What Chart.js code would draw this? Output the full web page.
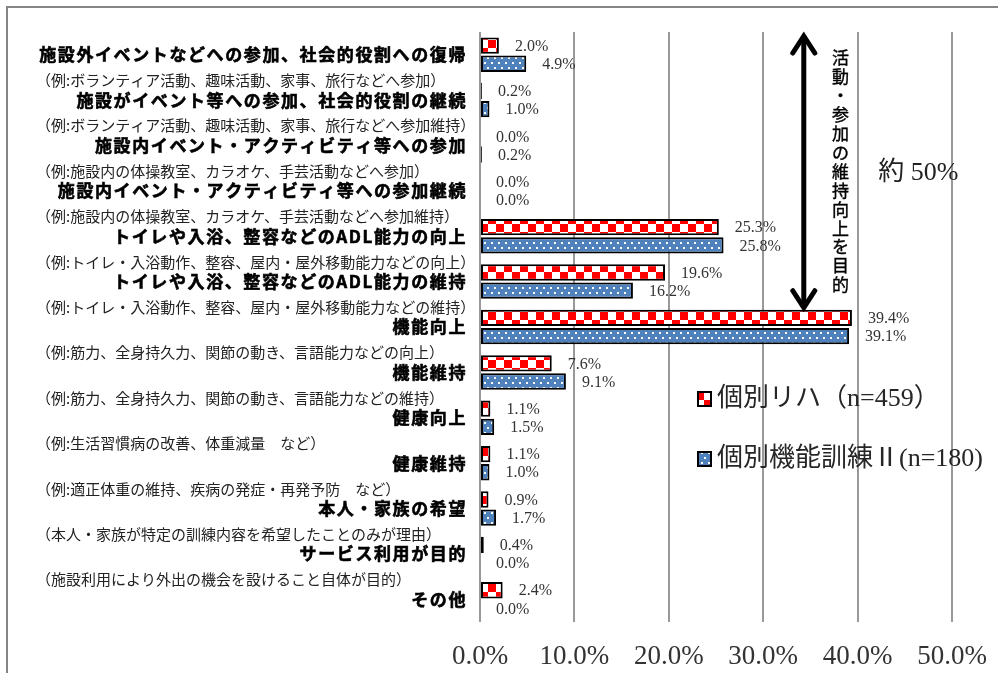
<!DOCTYPE html>
<html lang="ja">
<head>
<meta charset="utf-8">
<script src="https://cdn.jsdelivr.net/npm/chart.js@4.4.1/dist/chart.umd.min.js"></script>
<style>
  html, body { margin: 0; padding: 0; background: #fff; overflow: hidden; }
  #frame { position: absolute; left: 6px; top: 6px; width: 1100px; height: 800px; border: 2px solid #858585; }
  #chart { position: absolute; left: 0; top: 0; }
</style>
</head>
<body>
<div id="frame"></div>
<canvas id="chart" width="998" height="673"></canvas>
<script>
const titles = [
  '施設外イベントなどへの参加、社会的役割への復帰',
  '施設がイベント等への参加、社会的役割の継続',
  '施設内イベント・アクティビティ等への参加',
  '施設内イベント・アクティビティ等への参加継続',
  'トイレや入浴、整容などのADL能力の向上',
  'トイレや入浴、整容などのADL能力の維持',
  '機能向上',
  '機能維持',
  '健康向上',
  '健康維持',
  '本人・家族の希望',
  'サービス利用が目的',
  'その他'
]
const examples = [
  '（例:ボランティア活動、趣味活動、家事、旅行などへ参加）',
  '（例:ボランティア活動、趣味活動、家事、旅行などへ参加維持）',
  '（例:施設内の体操教室、カラオケ、手芸活動などへ参加）',
  '（例:施設内の体操教室、カラオケ、手芸活動などへ参加維持）',
  '（例:トイレ・入浴動作、整容、屋内・屋外移動能力などの向上）',
  '（例:トイレ・入浴動作、整容、屋内・屋外移動能力などの維持）',
  '（例:筋力、全身持久力、関節の動き、言語能力などの向上）',
  '（例:筋力、全身持久力、関節の動き、言語能力などの維持）',
  '（例:生活習慣病の改善、体重減量　など）',
  '（例:適正体重の維持、疾病の発症・再発予防　など）',
  '（本人・家族が特定の訓練内容を希望したことのみが理由）',
  '（施設利用により外出の機会を設けること自体が目的）',
  ''
]
const rehaLabel = '個別リハ（n=459）'
const rehaValues = [2.0, 0.2, 0.0, 0.0, 25.3, 19.6, 39.4, 7.6, 1.1, 1.1, 0.9, 0.4, 2.4]
const trainingLabel = '個別機能訓練Ⅱ(n=180)'
const trainingValues = [4.9, 1.0, 0.2, 0.0, 25.8, 16.2, 39.1, 9.1, 1.5, 1.0, 1.7, 0.0, 0.0]
const xTickLabels = ['0.0%', '10.0%', '20.0%', '30.0%', '40.0%', '50.0%']
const arrowText = '活動・参加の維持向上を目的'
const noteText = '約 50%'

const canvas = document.getElementById('chart')
const ctx = canvas.getContext('2d')

// red / white checker like the Excel pattern fill
const makeChecker = () => {
  const tile = document.createElement('canvas')
  tile.width = 16
  tile.height = 16
  const g = tile.getContext('2d')
  g.fillStyle = '#fff'
  g.fillRect(0, 0, 16, 16)
  g.fillStyle = '#ff0000'
  g.fillRect(0, 0, 8, 8)
  g.fillRect(8, 8, 8, 8)
  return ctx.createPattern(tile, 'repeat')
}

// blue with small white dots
const makeDots = () => {
  const tile = document.createElement('canvas')
  tile.width = 7
  tile.height = 10
  const g = tile.getContext('2d')
  g.fillStyle = '#4f81bd'
  g.fillRect(0, 0, 7, 10)
  g.fillStyle = '#fff'
  g.fillRect(1, 2, 2, 2)
  g.fillRect(4, 7, 2, 2)
  return ctx.createPattern(tile, 'repeat')
}

const checker = makeChecker()
const dots = makeDots()

const valueLabels = {
  id: 'valueLabels',
  afterDatasetsDraw (chart) {
    const c = chart.ctx
    c.save()
    c.font = '16px "Liberation Serif"'
    c.fillStyle = '#333'
    c.textAlign = 'left'
    c.textBaseline = 'middle'
    chart.data.datasets.forEach((ds, di) => {
      chart.getDatasetMeta(di).data.forEach((bar, i) => {
        c.fillText(ds.data[i].toFixed(1) + '%', bar.x + 16, bar.y + 1)
      })
    })
    c.restore()
  }
}

const categoryLabels = {
  id: 'categoryLabels',
  afterDraw (chart) {
    const c = chart.ctx
    const y = chart.scales.y
    const step = y.getPixelForValue(1) - y.getPixelForValue(0)
    c.save()
    c.textBaseline = 'middle'
    titles.forEach((t, i) => {
      const cy = y.getPixelForValue(i)
      c.font = 'bold 17px "Noto Sans CJK JP"'
      c.letterSpacing = '1.6px'
      c.textAlign = 'right'
      c.fillStyle = '#000'
      c.strokeStyle = '#000'
      c.lineWidth = 0.6
      c.fillText(t, 467, cy)
      c.strokeText(t, 467, cy)
      if (examples[i]) {
        c.font = '15px "Noto Sans CJK JP"'
        c.letterSpacing = '0px'
        c.textAlign = 'left'
        c.fillStyle = '#222'
        c.fillText(examples[i], 36, cy + step / 2 + 3)
      }
    })
    c.restore()
  }
}

const annotations = {
  id: 'annotations',
  afterDraw (chart) {
    const c = chart.ctx
    const { x, y } = chart.scales
    const top = chart.chartArea.top
    const bar = chart.getDatasetMeta(0).data[6]
    const bottom = bar.y - bar.height / 2 + 2
    const ax = x.getPixelForValue(34.3)

    // double headed arrow
    c.save()
    c.strokeStyle = '#000'
    c.lineWidth = 5
    c.beginPath()
    c.moveTo(ax, top + 4)
    c.lineTo(ax, bottom - 4)
    c.stroke()
    c.lineJoin = 'miter'
    c.lineCap = 'round'
    c.beginPath()
    c.moveTo(ax - 11, top + 21)
    c.lineTo(ax, top + 4)
    c.lineTo(ax + 11, top + 21)
    c.stroke()
    c.beginPath()
    c.moveTo(ax - 11, bottom - 21)
    c.lineTo(ax, bottom - 4)
    c.lineTo(ax + 11, bottom - 21)
    c.stroke()

    // vertical caption
    c.fillStyle = '#000'
    c.font = '17px "Noto Sans CJK JP"'
    c.textAlign = 'center'
    c.textBaseline = 'middle'
    c.strokeStyle = '#000'
    c.lineWidth = 0.4
    const tx = x.getPixelForValue(38.2)
    Array.from(arrowText).forEach((ch, i) => {
      c.fillText(ch, tx, top + 26 + i * 18.9)
      c.strokeText(ch, tx, top + 26 + i * 18.9)
    })

    // 約 50%
    c.font = '26px "Liberation Serif", "Noto Sans CJK JP"'
    c.fillStyle = '#222'
    c.textAlign = 'left'
    c.fillText(noteText, x.getPixelForValue(42.2), y.getPixelForValue(2.6))

    // legend
    c.font = '26px "Liberation Serif", "Noto Sans CJK JP"'
    chart.data.datasets.forEach((ds, i) => {
      const lx = 698
      const ly = 392 + i * 60
      c.fillStyle = ds.backgroundColor
      c.fillRect(lx, ly, 13, 14)
      c.strokeStyle = '#000'
      c.lineWidth = 2
      c.strokeRect(lx, ly, 13, 14)
      c.fillStyle = '#262626'
      c.fillText(ds.label, lx + 19, ly + 7)
    })
    c.restore()
  }
}

new Chart(ctx, {
  type: 'bar',
  data: {
    labels: titles,
    datasets: [
      {
        label: rehaLabel,
        data: rehaValues,
        backgroundColor: checker,
        borderColor: '#000',
        borderWidth: 2,
        borderSkipped: false,
        categoryPercentage: 0.8,
        barPercentage: 0.9
      },
      {
        label: trainingLabel,
        data: trainingValues,
        backgroundColor: dots,
        borderColor: '#000',
        borderWidth: 2,
        borderSkipped: false,
        categoryPercentage: 0.8,
        barPercentage: 0.9
      }
    ]
  },
  options: {
    indexAxis: 'y',
    responsive: false,
    animation: false,
    layout: { padding: { left: 480, right: 46, top: 32, bottom: 0 } },
    scales: {
      x: {
        min: 0,
        max: 50,
        ticks: {
          stepSize: 10,
          maxRotation: 0,
          padding: 8,
          color: '#333',
          font: { family: '"Liberation Serif"', size: 27, lineHeight: 2 },
          callback: (v, i) => xTickLabels[i]
        },
        grid: { color: '#999', lineWidth: 2, drawTicks: false },
        border: { display: false },
        afterFit: s => { s.height = 51 }
      },
      y: { display: false }
    },
    plugins: {
      legend: { display: false },
      tooltip: { enabled: false }
    }
  },
  plugins: [valueLabels, categoryLabels, annotations]
})
</script>
</body>
</html>
